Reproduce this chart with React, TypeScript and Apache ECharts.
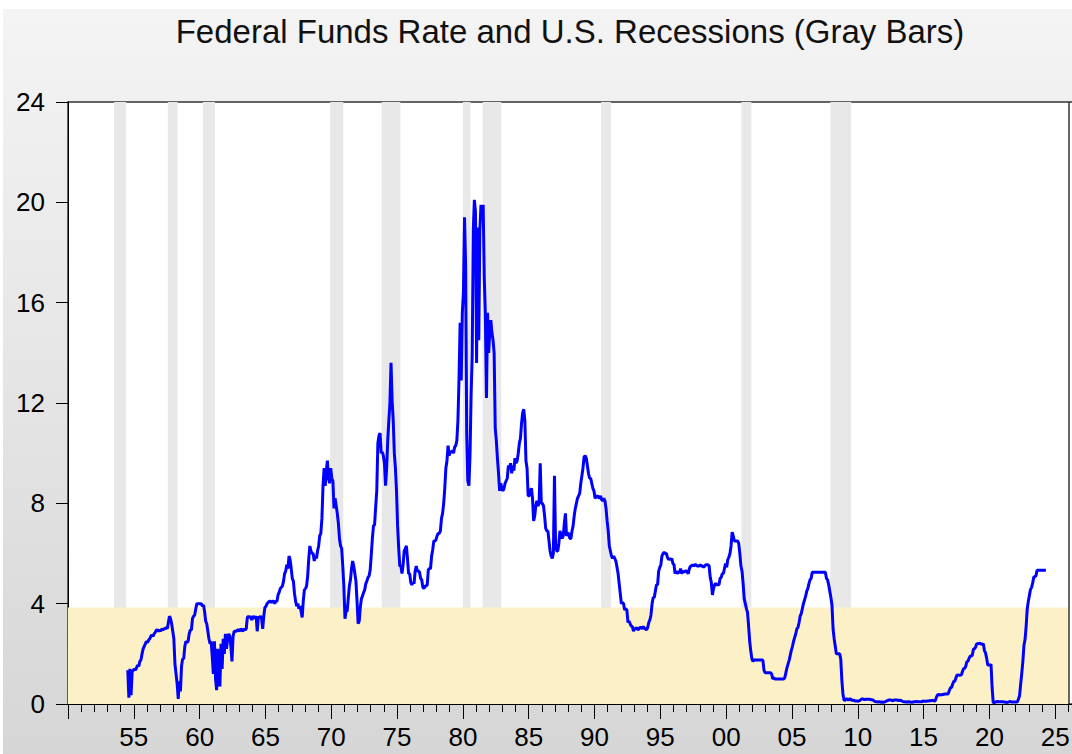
import React, { useEffect, useRef } from "react";
import * as echarts from "echarts";

// Monthly federal funds rate (%), first value = July 1954
const START_YEAR = 1954;
const START_MONTH = 7;

const rates1950s = [
  1.35, 0.25, 1.4, 0.35, 1.3, 1.35,
  1.4, 1.35, 1.45, 1.55, 1.5, 1.7, 1.75, 2.0, 2.2, 2.3, 2.4, 2.5,
  2.45, 2.55, 2.6, 2.7, 2.75, 2.7, 2.8, 2.85, 2.95, 2.95, 2.9, 2.95,
  2.9, 3.0, 2.95, 3.0, 3.0, 3.05, 3.0, 3.25, 3.5, 3.4, 3.2, 2.9,
  2.6, 1.6, 1.2, 0.8, 0.2, 0.9, 0.5, 1.5, 1.8, 1.8, 2.3, 2.5,
  2.45, 2.5, 2.8, 2.95, 2.95, 3.4, 3.5, 3.55, 3.8, 4.0, 4.0, 4.0,
];
const rates1960s = [
  4.0, 4.0, 3.9, 3.95, 3.7, 3.3, 3.2, 2.9, 2.6, 2.4, 2.5, 1.9,
  1.2, 2.5, 1.0, 0.55, 2.2, 1.0, 0.7, 2.4, 1.4, 2.6, 2.0, 2.8,
  2.2, 2.6, 2.8, 2.7, 2.3, 1.7, 2.7, 2.9, 2.9, 2.9, 2.95, 2.95,
  2.9, 3.0, 2.95, 2.9, 3.0, 2.95, 3.0, 3.45, 3.5, 3.45, 3.5, 3.35,
  3.45, 3.5, 3.4, 3.5, 2.9, 3.45, 3.45, 3.5, 3.4, 3.0, 3.5, 3.85,
  3.9, 4.0, 4.05, 4.1, 4.1, 4.05, 4.1, 4.1, 4.0, 4.1, 4.1, 4.35,
  4.45, 4.6, 4.65, 4.7, 4.9, 5.2, 5.3, 5.55, 5.4, 5.9, 5.75, 5.4,
  5.0, 4.9, 4.4, 4.1, 3.9, 4.0, 3.8, 3.9, 3.7, 3.45, 4.1, 4.55,
  4.6, 4.7, 5.1, 5.8, 6.3, 6.1, 6.0, 6.0, 5.7, 5.9, 5.8, 6.1,
  6.3, 6.7, 6.8, 7.4, 8.7, 9.4, 8.7, 9.3, 9.7, 9.0, 8.8, 9.4,
];
const rates1970s = [
  9.0, 8.9, 7.8, 8.2, 7.9, 7.6, 7.2, 6.6, 6.3, 6.2, 5.5, 4.7,
  3.4, 3.7, 3.7, 4.2, 4.7, 4.95, 5.4, 5.7, 5.5, 5.2, 4.9, 4.1,
  3.2, 3.3, 3.85, 4.2, 4.3, 4.45, 4.55, 4.8, 4.9, 5.05, 5.1, 5.35,
  5.95, 6.6, 7.1, 7.15, 7.85, 8.5, 10.4, 10.7, 10.8, 10.0, 10.05, 9.9,
  9.6, 8.7, 9.4, 10.5, 11.3, 12.0, 13.6, 12.1, 11.3, 10.0, 9.4, 8.5,
  7.1, 6.2, 5.5, 5.5, 5.2, 5.55, 6.1, 6.2, 6.3, 5.8, 5.2, 5.2,
  4.85, 4.75, 4.85, 4.8, 5.3, 5.5, 5.3, 5.3, 5.25, 5.0, 4.95, 4.65,
  4.6, 4.7, 4.7, 4.75, 5.35, 5.4, 5.4, 5.9, 6.15, 6.5, 6.5, 6.55,
  6.7, 6.8, 6.8, 6.9, 7.4, 7.6, 8.0, 8.6, 9.4, 9.7, 10.3, 9.9,
  10.05, 10.05, 10.1, 10.0, 10.25, 10.3, 10.5, 11.3, 13.0, 15.2, 12.9, 15.6,
];
const rates1980s = [
  16.4, 19.4, 17.5, 10.8, 8.9, 8.7, 9.9, 12.3, 13.9, 18.9, 20.1, 19.6,
  13.6, 19.0, 14.5, 18.9, 19.9, 19.5, 19.9, 17.0, 15.5, 12.2, 15.6, 14.0,
  14.8, 15.3, 14.8, 14.5, 14.0, 11.0, 10.5, 9.8, 9.2, 8.5, 8.8, 8.6,
  8.5, 8.6, 8.8, 8.9, 9.0, 9.5, 9.4, 9.6, 9.2, 9.5, 9.3, 9.8,
  9.6, 9.7, 10.0, 10.4, 10.6, 11.2, 11.6, 11.75, 11.3, 9.7, 9.4, 8.3,
  8.3, 8.5, 8.6, 8.2, 7.3, 7.5, 7.9, 8.1, 7.9, 8.0, 9.6, 8.0,
  8.0, 7.9, 7.5, 7.0, 6.9, 6.9, 6.5, 6.1, 5.9, 5.8, 6.0, 9.1,
  6.4, 6.1, 6.1, 6.4, 6.9, 6.7, 6.6, 6.7, 7.2, 7.6, 6.7, 6.8,
  6.8, 6.6, 6.6, 6.9, 7.1, 7.5, 7.8, 8.0, 8.2, 8.3, 8.4, 8.8,
  9.1, 9.4, 9.85, 9.9, 9.8, 9.5, 9.2, 9.0, 9.0, 8.8, 8.6, 8.5,
];
const rates1990s = [
  8.2, 8.25, 8.3, 8.25, 8.2, 8.3, 8.15, 8.1, 8.2, 8.1, 7.8, 7.3,
  6.9, 6.3, 6.1, 5.9, 5.8, 5.9, 5.8, 5.7, 5.45, 5.2, 4.8, 4.4,
  4.0, 4.05, 4.0, 3.75, 3.8, 3.75, 3.25, 3.3, 3.2, 3.1, 3.1, 2.9,
  3.0, 3.0, 3.05, 2.95, 3.0, 3.05, 3.05, 3.0, 3.1, 3.0, 3.0, 2.95,
  3.05, 3.25, 3.35, 3.55, 4.0, 4.25, 4.25, 4.5, 4.75, 4.75, 5.3, 5.45,
  5.55, 5.9, 6.0, 6.05, 6.0, 6.0, 5.85, 5.75, 5.8, 5.75, 5.8, 5.6,
  5.55, 5.2, 5.3, 5.2, 5.25, 5.25, 5.4, 5.2, 5.3, 5.25, 5.3, 5.3,
  5.25, 5.2, 5.4, 5.5, 5.5, 5.55, 5.5, 5.55, 5.55, 5.5, 5.5, 5.5,
  5.55, 5.5, 5.5, 5.45, 5.5, 5.55, 5.55, 5.55, 5.5, 5.05, 4.85, 4.35,
  4.6, 4.75, 4.8, 4.75, 4.75, 4.75, 5.0, 5.05, 5.2, 5.2, 5.4, 5.6,
];
const rates2000s = [
  5.45, 5.75, 5.85, 6.0, 6.3, 6.85, 6.7, 6.5, 6.5, 6.5, 6.5, 6.4,
  6.0, 5.5, 5.3, 4.8, 4.2, 4.0, 3.8, 3.65, 3.1, 2.5, 2.1, 1.8,
  1.7, 1.75, 1.75, 1.75, 1.75, 1.75, 1.75, 1.75, 1.75, 1.75, 1.35, 1.25,
  1.25, 1.25, 1.25, 1.25, 1.25, 1.2, 1.0, 1.05, 1.0, 1.0, 1.0, 1.0,
  1.0, 1.0, 1.0, 1.0, 1.0, 1.05, 1.25, 1.45, 1.6, 1.75, 1.95, 2.15,
  2.3, 2.5, 2.65, 2.8, 3.0, 3.05, 3.25, 3.5, 3.6, 3.8, 4.0, 4.15,
  4.3, 4.5, 4.6, 4.8, 4.95, 5.0, 5.25, 5.25, 5.25, 5.25, 5.25, 5.25,
  5.25, 5.25, 5.25, 5.25, 5.25, 5.25, 5.25, 5.0, 4.95, 4.75, 4.5, 4.25,
  3.95, 3.0, 2.6, 2.3, 2.0, 2.0, 2.0, 2.0, 1.8, 0.95, 0.4, 0.15,
  0.15, 0.2, 0.2, 0.15, 0.2, 0.2, 0.15, 0.15, 0.15, 0.12, 0.12, 0.12,
];
const rates2010s = [
  0.11, 0.13, 0.16, 0.2, 0.2, 0.18, 0.18, 0.19, 0.19, 0.19, 0.19, 0.18,
  0.17, 0.16, 0.14, 0.1, 0.09, 0.09, 0.07, 0.1, 0.08, 0.07, 0.08, 0.07,
  0.08, 0.1, 0.13, 0.14, 0.16, 0.16, 0.16, 0.13, 0.14, 0.16, 0.16, 0.16,
  0.14, 0.15, 0.14, 0.15, 0.11, 0.09, 0.09, 0.08, 0.08, 0.09, 0.08, 0.09,
  0.07, 0.07, 0.08, 0.09, 0.09, 0.1, 0.09, 0.09, 0.09, 0.09, 0.09, 0.12,
  0.11, 0.11, 0.11, 0.12, 0.12, 0.13, 0.13, 0.14, 0.14, 0.12, 0.12, 0.24,
  0.34, 0.38, 0.36, 0.37, 0.37, 0.38, 0.39, 0.4, 0.4, 0.4, 0.41, 0.54,
  0.65, 0.66, 0.79, 0.9, 0.91, 1.04, 1.15, 1.16, 1.15, 1.15, 1.16, 1.3,
  1.41, 1.42, 1.51, 1.69, 1.7, 1.82, 1.91, 1.91, 1.95, 2.19, 2.2, 2.27,
  2.4, 2.4, 2.41, 2.42, 2.39, 2.38, 2.4, 2.13, 2.04, 1.83, 1.55, 1.55,
];
const rates2020s = [
  1.55, 1.58, 0.65, 0.05, 0.05, 0.08, 0.09, 0.1, 0.09, 0.09, 0.09, 0.09,
  0.09, 0.08, 0.07, 0.07, 0.06, 0.08, 0.1, 0.09, 0.08, 0.08, 0.08, 0.08,
  0.08, 0.08, 0.2, 0.33, 0.77, 1.21, 1.68, 2.33, 2.56, 3.08, 3.78, 4.1,
  4.33, 4.57, 4.65, 4.83, 5.06, 5.08, 5.12, 5.33, 5.33, 5.33, 5.33, 5.33,
  5.33, 5.33, 5.33, 5.33,
];

// NBER recessions: [peak month, trough month]
const recessions: [string, string][] = [
  ["1953-07", "1954-05"],
  ["1957-08", "1958-04"],
  ["1960-04", "1961-02"],
  ["1969-12", "1970-11"],
  ["1973-11", "1975-03"],
  ["1980-01", "1980-07"],
  ["1981-07", "1982-11"],
  ["1990-07", "1991-03"],
  ["2001-03", "2001-11"],
  ["2007-12", "2009-06"],
];

const yTicks = [0, 4, 8, 12, 16, 20, 24];
const comfortBandTop = 3.85;
const plotEndYear = 2026;
const TITLE = "Federal Funds Rate and U.S. Recessions (Gray Bars)";

const FONT = "'Liberation Sans', Arial, Helvetica, sans-serif";

function monthStart(s: string) {
  const [y, m] = s.split("-").map(Number);
  return y + (m - 1) / 12;
}
function monthEnd(s: string) {
  const [y, m] = s.split("-").map(Number);
  return y + m / 12;
}

export default function App() {
  const ref = useRef<HTMLDivElement>(null);

  useEffect(() => {
    if (!ref.current) return;
    const chart = echarts.init(ref.current, null, { renderer: "svg" });

    const all = [
      ...rates1950s,
      ...rates1960s,
      ...rates1970s,
      ...rates1980s,
      ...rates1990s,
      ...rates2000s,
      ...rates2010s,
      ...rates2020s,
    ];
    const lineData = all.map((v, i) => {
      const m = START_MONTH - 1 + i;
      return [START_YEAR + m / 12 + 1 / 24, v];
    });

    const recessionAreas = recessions.map(([a, b]) => [
      { xAxis: monthStart(a), yAxis: yTicks[0], itemStyle: { color: "#E8E8E8" } },
      { xAxis: monthEnd(b), yAxis: yTicks[yTicks.length - 1] },
    ]);
    const bandArea = [
      { xAxis: 1950, yAxis: 0, itemStyle: { color: "#FCF1C6" } },
      { xAxis: plotEndYear, yAxis: comfortBandTop },
    ];

    chart.setOption({
      animation: false,
      backgroundColor: new echarts.graphic.LinearGradient(0, 0, 0, 1, [
        { offset: 0, color: "#F4F4F4" },
        { offset: 1, color: "#D6D6D6" },
      ]),
      title: {
        text: TITLE,
        left: 567,
        top: 6,
        padding: 0,
        textAlign: "center",
        textStyle: {
          fontFamily: FONT,
          fontSize: 33,
          fontWeight: "normal",
          color: "#111",
        },
      },
      grid: {
        left: 65,
        right: 0,
        top: 93,
        bottom: 50,
        show: true,
        backgroundColor: "#FFFFFF",
        borderColor: "#333",
        borderWidth: 1.5,
      },
      xAxis: {
        type: "value",
        min: 1950,
        max: 2030,
        interval: 5,
        axisLine: { show: true, onZero: false, lineStyle: { color: "#000", width: 1 } },
        axisTick: { show: true, length: 15, lineStyle: { color: "#000" } },
        minorTick: { show: true, splitNumber: 5, length: 8, lineStyle: { color: "#000" } },
        splitLine: { show: false },
        axisLabel: {
          margin: 20,
          fontFamily: FONT,
          fontSize: 26,
          color: "#000",
          formatter: (v: number) =>
            v > 1950 && v < 2030 && Math.round(v) % 5 === 0
              ? String(Math.round(v) % 100).padStart(2, "0")
              : "",
        },
      },
      yAxis: {
        type: "value",
        min: yTicks[0],
        max: yTicks[yTicks.length - 1],
        interval: 4,
        axisLine: { show: true, lineStyle: { color: "#000", width: 1 } },
        axisTick: { show: true, length: 12, lineStyle: { color: "#000" } },
        splitLine: { show: false },
        axisLabel: {
          margin: 23,
          fontFamily: FONT,
          fontSize: 26,
          color: "#000",
        },
      },
      series: [
        {
          type: "line",
          name: "areas",
          data: [],
          silent: true,
          z: 1,
          markArea: {
            silent: true,
            label: { show: false },
            data: [...recessionAreas, bandArea],
          },
          markLine: {
            silent: true,
            symbol: "none",
            label: { show: false },
            lineStyle: { color: "#333", width: 1.5, type: "solid" },
            data: [{ xAxis: plotEndYear }],
          },
        },
        {
          type: "line",
          name: "Federal Funds Rate",
          data: lineData,
          showSymbol: false,
          symbol: "none",
          z: 5,
          lineStyle: { color: "#0000FF", width: 3 },
          itemStyle: { color: "#0000FF" },
        },
      ],
    });

    return () => chart.dispose();
  }, []);

  return (
    <div
      style={{
        position: "absolute",
        left: 3,
        top: 9,
        width: 1069,
        height: 745,
        overflow: "hidden",
      }}
    >
      <div
        ref={ref}
        style={{ position: "absolute", left: 0, top: 0, width: 1121, height: 745 }}
      />
    </div>
  );
}
